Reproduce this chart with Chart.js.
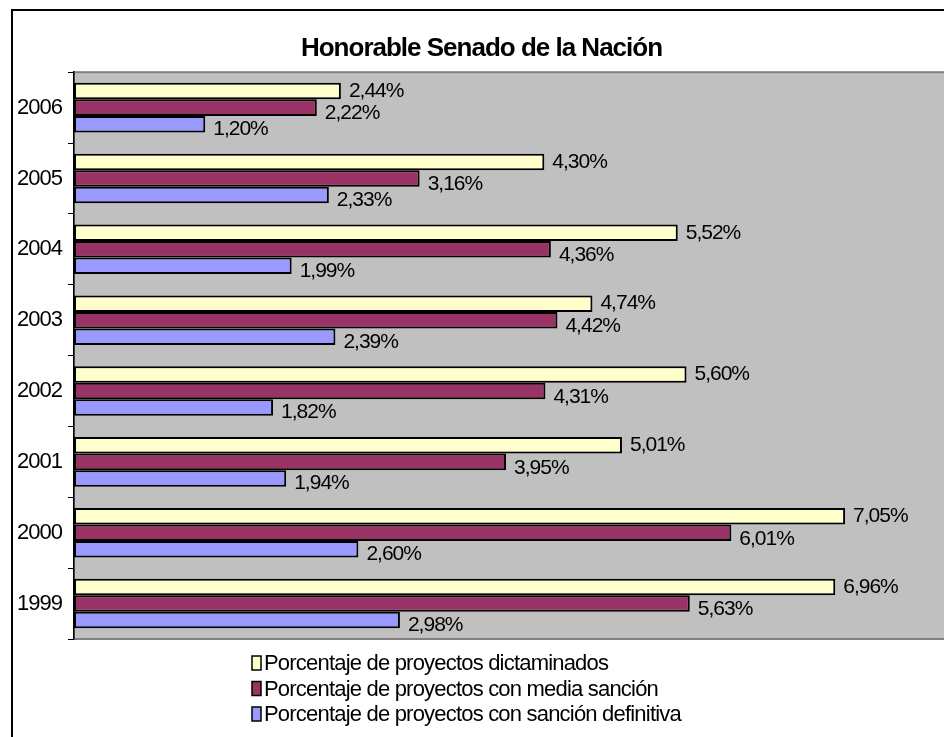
<!DOCTYPE html>
<html>
<head>
<meta charset="utf-8">
<script src="https://cdn.jsdelivr.net/npm/chart.js@4/dist/chart.umd.min.js"></script>
<style>
  html, body { margin: 0; padding: 0; background: #fff; overflow: hidden; }
  #marco { position: absolute; left: 11px; top: 9px; width: 1000px; height: 800px; border: 2px solid #000; }
  #grafico { position: absolute; left: 0; top: 0; }
</style>
</head>
<body>
<div id="marco"></div>
<canvas id="grafico" width="950" height="737"></canvas>
<script>
// años, de arriba hacia abajo como en el original
const anios = ['2006', '2005', '2004', '2003', '2002', '2001', '2000', '1999'];

// porcentajes
const dictaminados = [2.44, 4.30, 5.52, 4.74, 5.60, 5.01, 7.05, 6.96];
const mediaSancion = [2.22, 3.16, 4.36, 4.42, 4.31, 3.95, 6.01, 5.63];
const sancionDefinitiva = [1.20, 2.33, 1.99, 2.39, 1.82, 1.94, 2.60, 2.98];

const nombres = [
    'Porcentaje de proyectos dictaminados',
    'Porcentaje de proyectos con media sanción',
    'Porcentaje de proyectos con sanción definitiva'
];
const colores = ['#FFFFCC', '#993366', '#9999FF'];

const FUENTE = '"Liberation Sans", Arial, sans-serif';

// fondo gris del área de trazado + espaciado de letras estrecho (estilo Excel)
const fondo = {
    id: 'fondo',
    beforeDraw(chart) {
        const ctx = chart.ctx;
        const a = chart.chartArea;
        ctx.letterSpacing = '-1px';
        ctx.save();
        ctx.fillStyle = '#C0C0C0';
        ctx.fillRect(a.left, a.top, a.right - a.left, a.bottom - a.top);
        ctx.strokeStyle = '#808080';
        ctx.lineWidth = 2;
        ctx.strokeRect(a.left, a.top, a.right - a.left + 10, a.bottom - a.top);
        ctx.restore();
    }
};

// etiquetas de valor a la derecha de cada barra
const etiquetas = {
    id: 'etiquetas',
    afterDatasetsDraw(chart) {
        const ctx = chart.ctx;
        const desplaz = [0, 6, 5];
        ctx.save();
        ctx.font = '21px ' + FUENTE;
        ctx.fillStyle = '#000';
        ctx.textAlign = 'left';
        ctx.textBaseline = 'middle';
        chart.data.datasets.forEach((ds, i) => {
            chart.getDatasetMeta(i).data.forEach((barra, j) => {
                const txt = ds.data[j].toFixed(2).replace('.', ',') + '%';
                ctx.fillText(txt, barra.x + 8, barra.y + desplaz[i]);
            });
        });
        ctx.restore();
    }
};

// leyenda apilada debajo del gráfico
const leyenda = {
    id: 'leyenda',
    afterDraw(chart) {
        const ctx = chart.ctx;
        ctx.save();
        ctx.letterSpacing = '-0.8px';
        ctx.font = '22px ' + FUENTE;
        ctx.textBaseline = 'middle';
        ctx.fillStyle = '#000';
        chart.data.datasets.forEach((ds, i) => {
            const y = 663 + i * 25.5;
            ctx.fillStyle = ds.backgroundColor;
            ctx.fillRect(252, y - 7, 9, 14);
            ctx.strokeStyle = '#000';
            ctx.lineWidth = 1.5;
            ctx.strokeRect(252, y - 7, 9, 14);
            ctx.fillStyle = '#000';
            ctx.fillText(ds.label, 264, y + 1);
        });
        ctx.restore();
    }
};

const series = [dictaminados, mediaSancion, sancionDefinitiva];

new Chart(document.getElementById('grafico'), {
    type: 'bar',
    data: {
        labels: anios,
        datasets: series.map((valores, i) => ({
            label: nombres[i],
            data: valores,
            backgroundColor: colores[i],
            borderColor: '#000',
            borderWidth: 2,
            borderSkipped: false,
            categoryPercentage: 0.70,
            barPercentage: 1.0
        }))
    },
    options: {
        indexAxis: 'y',
        responsive: false,
        animation: false,
        layout: { padding: { top: 0, left: 14, right: 1, bottom: 98 } },
        plugins: {
            legend: { display: false },
            tooltip: { enabled: false },
            title: {
                display: true,
                text: 'Honorable Senado de la Nación',
                color: '#000',
                font: { family: FUENTE, size: 26, weight: 'bold' },
                padding: { top: 33, bottom: 8 }
            }
        },
        scales: {
            x: { display: false, min: 0, max: 8 },
            y: {
                afterFit: function(scale) { scale.width = 60; },
                grid: {
                    display: true,
                    drawOnChartArea: false,
                    drawTicks: true,
                    tickLength: 6,
                    color: '#000',
                    offset: true
                },
                border: { display: true, color: '#000', width: 1.5 },
                ticks: {
                    color: '#000',
                    padding: 6,
                    font: { family: FUENTE, size: 22 }
                }
            }
        }
    },
    plugins: [fondo, etiquetas, leyenda]
});
</script>
</body>
</html>
